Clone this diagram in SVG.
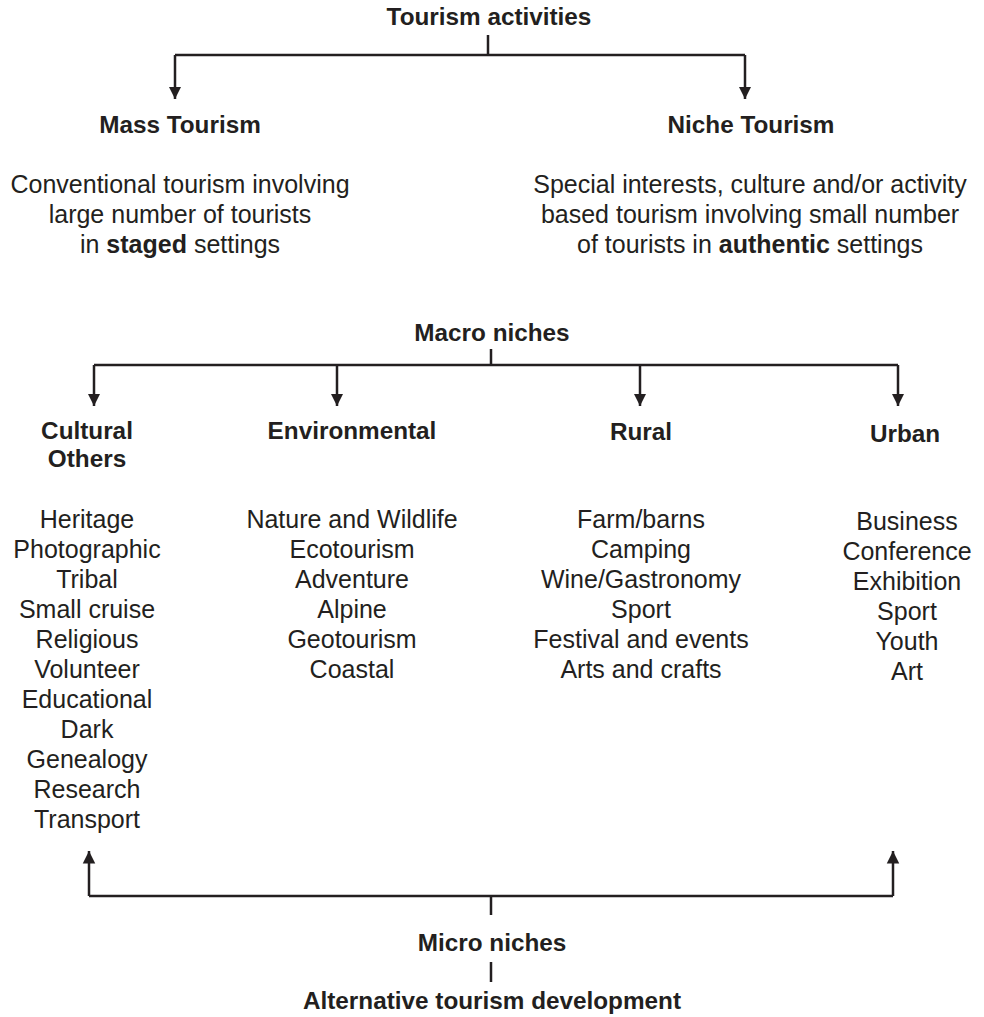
<svg xmlns="http://www.w3.org/2000/svg" width="984" height="1017" viewBox="0 0 984 1017">
<style>
text{font-family:"Liberation Sans",Arial,sans-serif;fill:#231f20;text-anchor:middle}
.h{font-weight:bold;font-size:24.3px}
.t{font-size:25px}
.b{font-weight:bold}
.c{stroke:#231f20;stroke-width:2.5;fill:none}
</style>
<defs>
<marker id="ah" viewBox="0 0 10 10" refX="10" refY="5" markerWidth="5" markerHeight="5.5" orient="auto" markerUnits="strokeWidth">
<path d="M0,0 L10,5 L0,10 Z" fill="#231f20"/>
</marker>
</defs>
<rect width="984" height="1017" fill="#fff"/>
<g id="connectors">
<path class="c" d="M488,35 V55"/>
<path class="c" d="M175,55 H745"/>
<path class="c" d="M175,55 V99" marker-end="url(#ah)"/>
<path class="c" d="M745,55 V99" marker-end="url(#ah)"/>
<path class="c" d="M491,349 V365"/>
<path class="c" d="M94,365 H898"/>
<path class="c" d="M94,365 V406" marker-end="url(#ah)"/>
<path class="c" d="M337,365 V406" marker-end="url(#ah)"/>
<path class="c" d="M640,365 V406" marker-end="url(#ah)"/>
<path class="c" d="M898,365 V406" marker-end="url(#ah)"/>
<path class="c" d="M89,896 V851" marker-end="url(#ah)"/>
<path class="c" d="M893,896 V851" marker-end="url(#ah)"/>
<path class="c" d="M89,896 H893"/>
<path class="c" d="M491,896 V915"/>
<path class="c" d="M491,962 V982"/>
</g>
<g id="tourism-activities"><text class="h" x="489" y="25">Tourism activities</text></g>
<g id="mass-tourism">
<text class="h" x="180" y="133">Mass Tourism</text>
<text class="t" x="180" y="193">Conventional tourism involving</text>
<text class="t" x="180" y="223">large number of tourists</text>
<text class="t" x="180" y="253">in <tspan class="b">staged</tspan> settings</text>
</g>
<g id="niche-tourism">
<text class="h" x="751" y="133">Niche Tourism</text>
<text class="t" x="750" y="193">Special interests, culture and/or activity</text>
<text class="t" x="750" y="223">based tourism involving small number</text>
<text class="t" x="750" y="253">of tourists in <tspan class="b">authentic</tspan> settings</text>
</g>
<g id="macro-niches"><text class="h" x="492" y="341">Macro niches</text></g>
<g id="cultural">
<text class="h" x="87" y="439">Cultural</text>
<text class="h" x="87" y="467">Others</text>
<text class="t" x="87" y="528">Heritage</text>
<text class="t" x="87" y="558">Photographic</text>
<text class="t" x="87" y="588">Tribal</text>
<text class="t" x="87" y="618">Small cruise</text>
<text class="t" x="87" y="648">Religious</text>
<text class="t" x="87" y="678">Volunteer</text>
<text class="t" x="87" y="708">Educational</text>
<text class="t" x="87" y="738">Dark</text>
<text class="t" x="87" y="768">Genealogy</text>
<text class="t" x="87" y="798">Research</text>
<text class="t" x="87" y="828">Transport</text>
</g>
<g id="environmental">
<text class="h" x="352" y="439">Environmental</text>
<text class="t" x="352" y="528">Nature and Wildlife</text>
<text class="t" x="352" y="558">Ecotourism</text>
<text class="t" x="352" y="588">Adventure</text>
<text class="t" x="352" y="618">Alpine</text>
<text class="t" x="352" y="648">Geotourism</text>
<text class="t" x="352" y="678">Coastal</text>
</g>
<g id="rural">
<text class="h" x="641" y="440">Rural</text>
<text class="t" x="641" y="528">Farm/barns</text>
<text class="t" x="641" y="558">Camping</text>
<text class="t" x="641" y="588">Wine/Gastronomy</text>
<text class="t" x="641" y="618">Sport</text>
<text class="t" x="641" y="648">Festival and events</text>
<text class="t" x="641" y="678">Arts and crafts</text>
</g>
<g id="urban">
<text class="h" x="905" y="442">Urban</text>
<text class="t" x="907" y="530">Business</text>
<text class="t" x="907" y="560">Conference</text>
<text class="t" x="907" y="590">Exhibition</text>
<text class="t" x="907" y="620">Sport</text>
<text class="t" x="907" y="650">Youth</text>
<text class="t" x="907" y="680">Art</text>
</g>
<g id="micro-niches"><text class="h" x="492" y="951">Micro niches</text></g>
<g id="alternative"><text class="h" x="492" y="1009">Alternative tourism development</text></g>
</svg>
